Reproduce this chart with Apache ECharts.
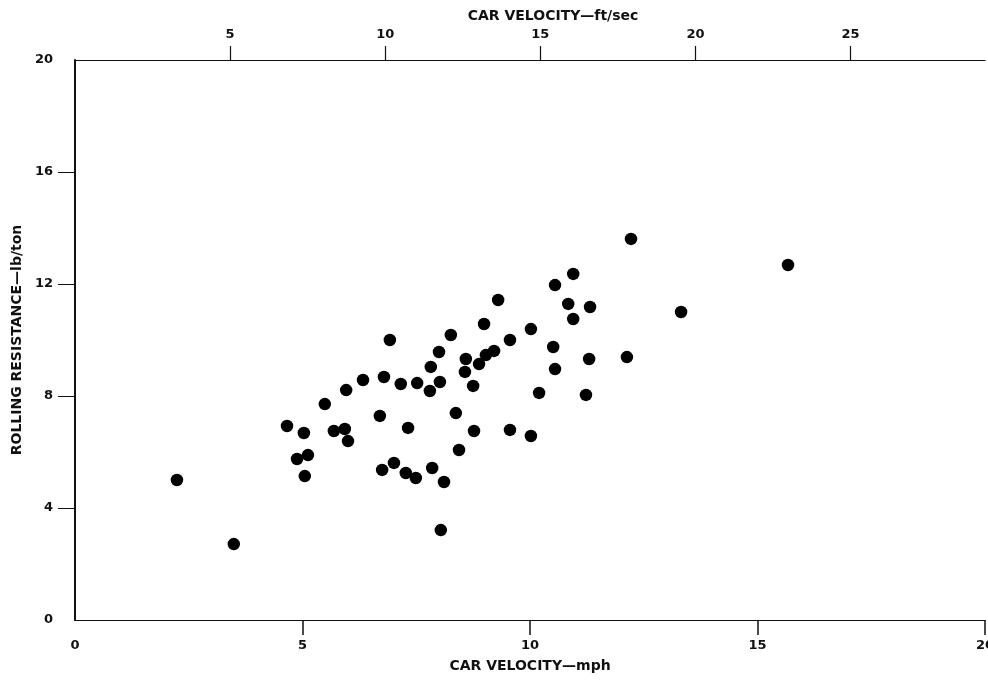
<!DOCTYPE html>
<html>
<head>
<meta charset="utf-8">
<script src="https://cdn.jsdelivr.net/npm/echarts@6/dist/echarts.min.js"></script>
<style>
  html, body { margin: 0; padding: 0; background: #fff; }
  #chart { width: 988px; height: 680px; }
</style>
</head>
<body>
<div id="chart"></div>
<script>
// car velocity (mph) and rolling resistance (lb/ton)
var velocityMph = [
    2.24, 3.49, 4.66, 4.88, 5.03, 5.12, 5.05, 5.49, 5.69, 5.93,
    5.96, 6.00, 6.33, 6.70, 6.79, 6.92, 6.75, 7.01, 7.16, 7.32,
    7.27, 7.49, 7.52, 7.80, 7.82, 7.85, 8.00, 8.02, 8.04, 8.11,
    8.26, 8.37, 8.44, 8.57, 8.59, 8.75, 8.77, 8.88, 8.99, 9.03,
    9.21, 9.30, 9.56, 9.56, 10.02, 10.02, 10.20, 10.51, 10.55, 10.55,
    10.84, 10.95, 10.95, 11.23, 11.30, 11.32, 12.13, 12.22, 13.32, 15.67
];
var resistance = [
    5.00, 2.71, 6.93, 5.75, 6.68, 5.89, 5.14, 7.71, 6.75, 6.82,
    8.21, 6.39, 8.57, 7.29, 8.68, 10.00, 5.36, 5.61, 8.43, 6.86,
    5.25, 5.07, 8.46, 8.18, 9.04, 5.43, 9.57, 8.50, 3.21, 4.93,
    10.18, 7.39, 6.07, 8.86, 9.32, 8.36, 6.75, 9.14, 10.57, 9.46,
    9.61, 11.43, 10.00, 6.79, 10.39, 6.57, 8.11, 9.75, 11.96, 8.96,
    11.29, 12.36, 10.75, 8.04, 9.32, 11.18, 9.39, 13.61, 11.00, 12.68
];

// tick positions
var mphLabels = [0, 5, 10, 15, 20];
var mphTicks = [5, 10, 15, 20];
var ftsTicks = [5, 10, 15, 20, 25];
var yLabels = [0, 4, 8, 12, 16, 20];
var yTicks = [4, 8, 12, 16];

var MPH_TO_FTS = 1.4667;

var points = [];
for (var i = 0; i < velocityMph.length; i++) {
    points.push([velocityMph[i], resistance[i]]);
}

var chart = echarts.init(document.getElementById("chart"));

var font = "DejaVu Sans";
var ink = "#111";

var labelStyle = { fontFamily: font, fontSize: 13, fontWeight: "bold", color: ink };
var nameStyle = { fontFamily: font, fontSize: 14, fontWeight: "bold", color: ink };

var option = {
    backgroundColor: "#fff",
    animation: false,
    grid: {
        left: 75,
        right: 3,
        top: 60,
        bottom: 60,
        containLabel: false,
        outerBoundsMode: "none"
    },
    xAxis: [
        {
            // bottom axis, mph
            type: "value",
            position: "bottom",
            min: 0,
            max: 20,
            interval: 5,
            name: "CAR VELOCITY\u2014mph",
            nameLocation: "middle",
            nameGap: 39,
            nameTextStyle: nameStyle,
            axisLine: { show: true, lineStyle: { color: ink, width: 1.2 } },
            axisTick: {
                show: true, inside: false, length: 15,
                customValues: mphTicks,
                lineStyle: { color: ink, width: 1.5 }
            },
            axisLabel: Object.assign({ show: true, margin: 19, customValues: mphLabels }, labelStyle),
            splitLine: { show: false }
        },
        {
            // top axis, ft/sec
            type: "value",
            position: "top",
            min: 0,
            max: 20 * MPH_TO_FTS,
            name: "CAR VELOCITY\u2014ft/sec",
            nameLocation: "middle",
            nameGap: 37,
            nameTextStyle: Object.assign({ padding: [0, 0, 0, 46] }, nameStyle),
            axisLine: { show: true, lineStyle: { color: ink, width: 1.2 } },
            axisTick: {
                show: true, inside: false, length: 14,
                customValues: ftsTicks,
                lineStyle: { color: ink, width: 1.2 }
            },
            axisLabel: Object.assign({ show: true, margin: 19, customValues: ftsTicks }, labelStyle),
            splitLine: { show: false }
        }
    ],
    yAxis: {
        type: "value",
        min: 0,
        max: 20,
        interval: 4,
        name: "ROLLING RESISTANCE\u2014lb/ton",
        nameLocation: "middle",
        nameGap: 50,
        nameRotate: 90,
        nameTextStyle: nameStyle,
        axisLine: { show: true, lineStyle: { color: ink, width: 2 } },
        axisTick: {
            show: true, inside: false, length: 17,
            customValues: yTicks,
            lineStyle: { color: ink, width: 1 }
        },
        axisLabel: Object.assign({ show: true, margin: 22, customValues: yLabels }, labelStyle),
        splitLine: { show: false }
    },
    series: [
        {
            type: "scatter",
            xAxisIndex: 0,
            yAxisIndex: 0,
            data: points,
            symbol: "circle",
            symbolSize: 12.5,
            itemStyle: { color: "#000", opacity: 1 },
            emphasis: { disabled: true }
        }
    ]
};

chart.setOption(option);
</script>
</body>
</html>
